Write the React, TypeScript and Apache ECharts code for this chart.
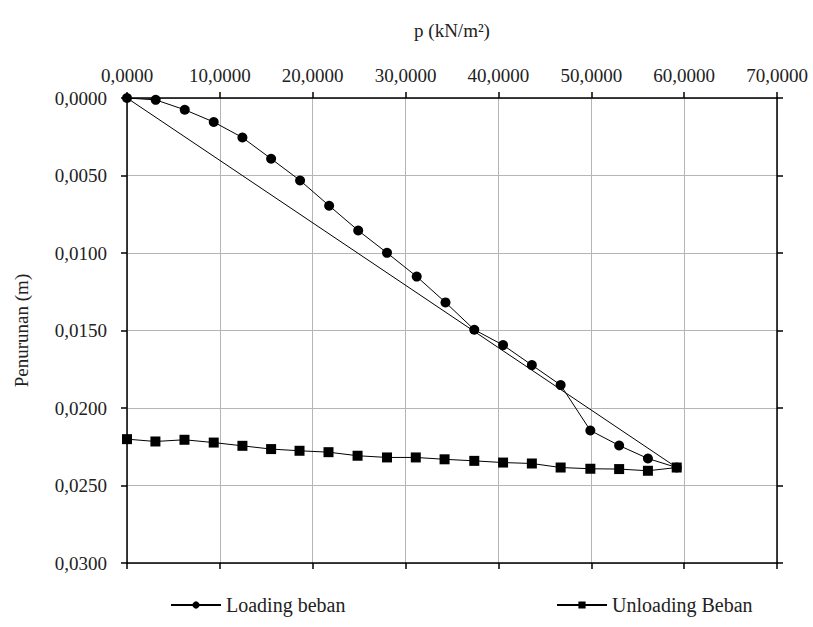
import React, { useEffect, useRef } from "react";
import * as echarts from "echarts";

// Loading (pembebanan) – pressure p (kN/m²) and settlement (m)
const loadP = [0, 3.09, 6.22, 9.34, 12.43, 15.52, 18.64, 21.77, 24.9, 28.0, 31.2, 34.3, 37.4, 40.5, 43.6, 46.7, 49.9, 53.0, 56.1, 59.2];
const loadS = [0, 0.00012, 0.00076, 0.00155, 0.00255, 0.00392, 0.00532, 0.00695, 0.00855, 0.00999, 0.01152, 0.01319, 0.01495, 0.01594, 0.01723, 0.01852, 0.02145, 0.02242, 0.02326, 0.02384];

// Unloading
const unloadP = [0, 3.06, 6.19, 9.34, 12.43, 15.52, 18.58, 21.7, 24.83, 28.0, 31.1, 34.2, 37.4, 40.5, 43.6, 46.7, 49.9, 53.0, 56.1, 59.2];
const unloadS = [0.02201, 0.02216, 0.02205, 0.02223, 0.02244, 0.02265, 0.02276, 0.02285, 0.02308, 0.02319, 0.02319, 0.02331, 0.02341, 0.02352, 0.02358, 0.02384, 0.02392, 0.02394, 0.02405, 0.02384];

// Straight reference line from origin to the maximum load point
const lineP = [0, 59.2];
const lineS = [0, 0.02384];

const xTicks = { min: 0, max: 70, interval: 10 };
const yTicks = { min: 0, max: 0.03, interval: 0.005 };

const fmt = (v: number) => v.toFixed(4).replace(".", ",");

const FONT = "'Liberation Serif', 'Times New Roman', serif";
const TXT = "#222";

export default function App() {
  const ref = useRef<HTMLDivElement>(null);
  useEffect(() => {
    if (!ref.current) return;
    const chart = echarts.init(ref.current, null, { renderer: "svg" });
    const axisLine = { show: true, onZero: false, lineStyle: { color: "#000", width: 1.5 } };
    const axisTick = { show: true, inside: false, length: 6, lineStyle: { color: "#000", width: 1.5 } };
    chart.setOption({
      animation: false,
      backgroundColor: "#fff",
      grid: { left: 127, right: 36, top: 98, bottom: 64, outerBoundsMode: "none" },
      legend: [
        {
          data: ["Loading beban"],
          left: 165,
          top: 590,
          itemWidth: 50,
          itemHeight: 9,
          textStyle: { fontFamily: FONT, fontSize: 20, color: TXT },
        },
        {
          data: ["Unloading Beban"],
          left: 551,
          top: 590,
          itemWidth: 50,
          itemHeight: 9,
          textStyle: { fontFamily: FONT, fontSize: 20, color: TXT },
        },
      ],
      xAxis: [
        {
          type: "value",
          position: "top",
          ...xTicks,
          name: "p (kN/m²)",
          nameLocation: "middle",
          nameGap: 58,
          nameTextStyle: { fontFamily: FONT, fontSize: 19, color: TXT },
          axisLine,
          axisTick,
          axisLabel: { formatter: fmt, fontFamily: FONT, fontSize: 19, color: TXT, margin: 13 },
          splitLine: { show: true, lineStyle: { color: "#b5b5b5", width: 1 } },
        },
        {
          type: "value",
          position: "bottom",
          ...xTicks,
          axisLine,
          axisTick,
          axisLabel: { show: false },
          splitLine: { show: false },
        },
      ],
      yAxis: [
        {
          type: "value",
          position: "left",
          inverse: true,
          ...yTicks,
          name: "Penurunan (m)",
          nameLocation: "middle",
          nameGap: 96,
          nameTextStyle: { fontFamily: FONT, fontSize: 19, color: TXT },
          axisLine,
          axisTick,
          axisLabel: { formatter: fmt, fontFamily: FONT, fontSize: 19, color: TXT, margin: 20 },
          splitLine: { show: true, lineStyle: { color: "#b5b5b5", width: 1 } },
        },
        {
          type: "value",
          position: "right",
          inverse: true,
          ...yTicks,
          axisLine,
          axisTick,
          axisLabel: { show: false },
          splitLine: { show: false },
        },
      ],
      series: [
        {
          name: "Loading beban",
          type: "line",
          xAxisIndex: 0,
          yAxisIndex: 0,
          data: loadP.map((p, i) => [p, loadS[i]]),
          symbol: "circle",
          symbolSize: 10,
          itemStyle: { color: "#000" },
          lineStyle: { color: "#000", width: 1 },
        },
        {
          name: "Unloading Beban",
          type: "line",
          xAxisIndex: 0,
          yAxisIndex: 0,
          data: unloadP.map((p, i) => [p, unloadS[i]]),
          symbol: "rect",
          symbolSize: 10,
          itemStyle: { color: "#000" },
          lineStyle: { color: "#000", width: 1 },
        },
        {
          name: "linear",
          type: "line",
          xAxisIndex: 0,
          yAxisIndex: 0,
          data: lineP.map((p, i) => [p, lineS[i]]),
          symbol: "none",
          lineStyle: { color: "#000", width: 1 },
        },
      ],
    });
    return () => chart.dispose();
  }, []);
  return (
    <div
      ref={ref}
      style={{ position: "absolute", left: 0, top: 0, width: 813, height: 627 }}
    />
  );
}
